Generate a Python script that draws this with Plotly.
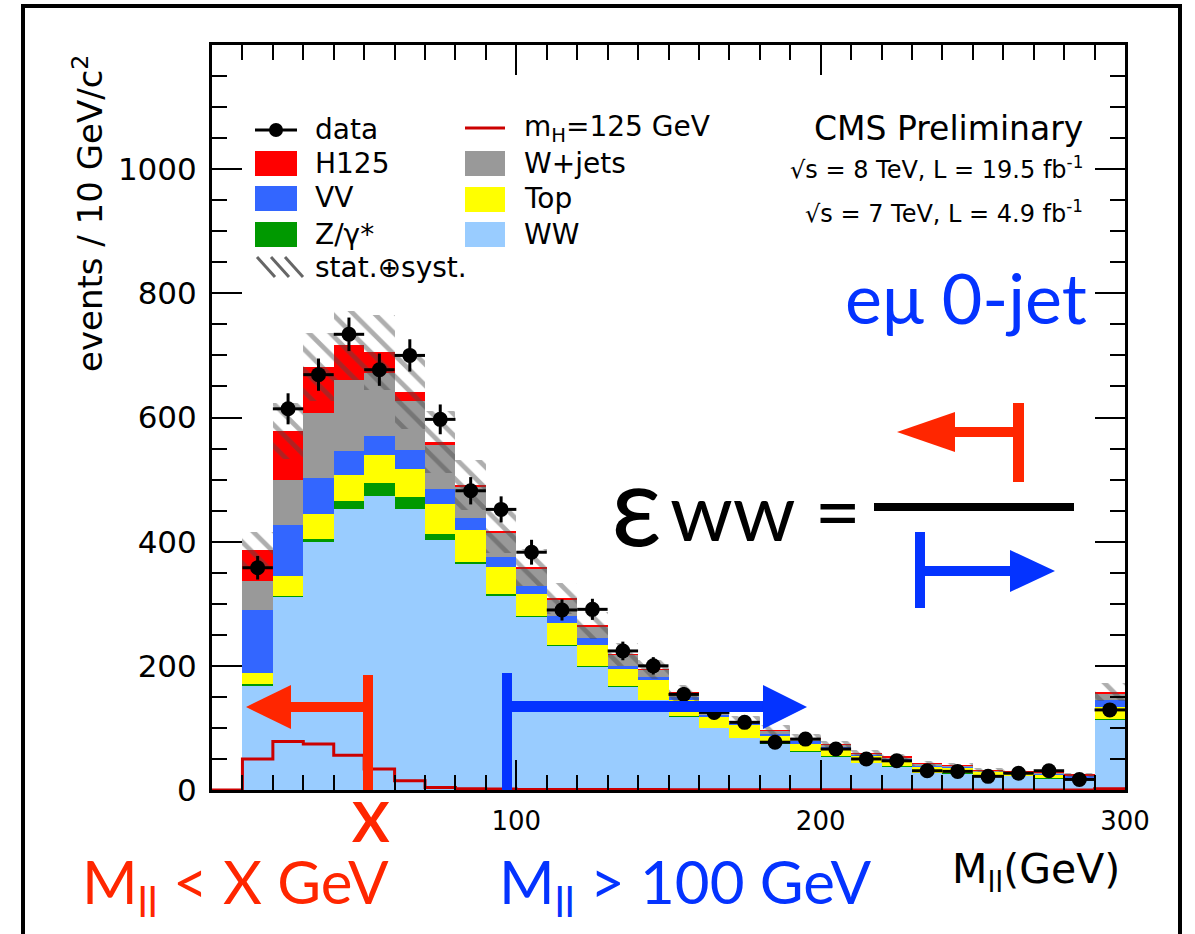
import numpy as np
import plotly.graph_objects as go

# ---------------- data: e-mu 0-jet dilepton mass, 10 GeV bins from 10 to 300 GeV
bin_low = np.arange(10, 300, 10)          # last bin carries the overflow
bin_width = 10

ww    = [169, 311, 399, 453, 473, 453, 402, 365, 313, 279, 232, 199, 167, 145, 119,
         100, 84, 75, 62, 54, 44, 38, 28, 27, 22, 23, 19, 17, 114]
zgam  = [2, 2, 5, 13, 22, 19, 11, 3, 3, 2, 1, 1, 0.5, 0.5, 0.3,
         0.3, 0.2, 0.2, 0.2, 0.2, 0.1, 0.1, 0.1, 0.1, 0.1, 0.1, 0.1, 0.1, 1]
top   = [17, 31, 40, 41, 45, 45, 47, 50, 43, 35, 36, 34, 27, 31, 25,
         18, 22, 11, 12, 13, 11, 10, 10, 9, 7, 4, 6, 3, 18]
vv    = [102, 83, 59, 39, 31, 30, 25, 20, 17, 12, 11, 11, 6, 5, 5,
         4, 2, 4, 4, 3, 2, 3, 2, 2, 1, 1, 1, 3, 12]
wjets = [46, 73, 104, 114, 100, 79, 71, 51, 39, 29, 27, 19, 17, 12, 7,
         3, 2, 6, 4, 3, 2, 2, 2, 2, 2, 2, 2, 1, 11]
h125  = [50, 78, 74, 56, 34, 15, 4, 2, 1.5, 1, 1, 1, 0.8, 0.7, 0.6,
         0.5, 0.4, 0.4, 0.3, 0.3, 0.2, 0.2, 0.2, 0.1, 0.1, 0.1, 0.1, 0.1, 2]
bkg_unc = [30, 45, 55, 55, 60, 60, 50, 40, 35, 30, 25, 22, 18, 16, 13,
           10, 9, 8, 7, 6, 5, 5, 4, 4, 3, 3, 3, 3, 14]

data     = [358, 614, 669, 734, 677, 700, 597, 482, 452, 383, 290, 291, 224, 200, 154,
            125, 109, 77, 82, 66, 50, 47, 31, 30, 22, 27, 31, 17, 129]
data_err = [19, 25, 26, 27, 26, 26, 24, 22, 21, 20, 17, 17, 15, 14, 12,
            11, 10, 9, 9, 8, 7, 7, 6, 5, 5, 5, 6, 4, 11]

x_ticks = [100, 200, 300]
y_ticks = [0, 200, 400, 600, 800, 1000]

# ---------------- styles
C_WW, C_Z, C_TOP, C_VV, C_WJ, C_H = "#99ccff", "#009900", "#ffff00", "#3366ff", "#999999", "#ff0000"
C_SIGLINE = "#cc0000"
K_RED, K_BLUE = "#ff2600", "#0433ff"
ROOT_FONT = "DejaVu Sans"
SLIDE_FONT = "Lato, Noto Sans"

W, H = 1195, 934
L, R, T, B = 212, 70, 45, 144
PW, PH = W - L - R, H - T - B


def px(x, y):
    """page pixel -> paper coordinates"""
    return (x - L) / PW, (H - B - y) / PH


centers = bin_low + bin_width / 2
fig = go.Figure()

# stacked backgrounds + signal
stack = [("WW", ww, C_WW), ("Z/γ*", zgam, C_Z), ("Top", top, C_TOP),
         ("VV", vv, C_VV), ("W+jets", wjets, C_WJ), ("H125", h125, C_H)]
base = np.zeros(len(bin_low))
for name, vals, col in stack:
    vals = np.asarray(vals, dtype=float)
    fig.add_trace(go.Bar(x=centers, y=vals, base=base.copy(), width=bin_width, name=name,
                         marker=dict(color=col, line=dict(width=0)), opacity=1,
                         showlegend=False, hoverinfo="skip"))
    base += vals
total = base

# stat (+) syst band
unc = np.asarray(bkg_unc, dtype=float)
fig.add_trace(go.Bar(x=centers, y=2 * unc, base=total - unc, width=bin_width, name="stat.⊕syst.",
                     marker=dict(color="rgba(0,0,0,0)", line=dict(width=0),
                                 pattern=dict(shape="\\", fgcolor="rgba(75,75,75,0.9)",
                                              bgcolor="rgba(0,0,0,0)", size=15, solidity=0.32)),
                     showlegend=False, hoverinfo="skip"))

# mH = 125 GeV signal shape, drawn as a step line over the full range
edges = np.append(np.insert(bin_low, 0, 0), 300)
sig = np.concatenate([[0.0], h125, [h125[-1]]])
fig.add_trace(go.Scatter(x=edges, y=sig, mode="lines", line=dict(color=C_SIGLINE, width=3, shape="hv"),
                         showlegend=False, hoverinfo="skip"))

# data
fig.add_trace(go.Scatter(x=centers, y=data, mode="markers",
                         marker=dict(color="black", size=15),
                         error_y=dict(type="data", array=data_err, color="black", thickness=3, width=0),
                         error_x=dict(type="constant", value=bin_width / 2, color="black", thickness=3, width=0),
                         showlegend=False))

shapes = []
annos = []


def rect(x0, y0, x1, y1, color, line=None):
    a, b = px(x0, y1)
    c, d = px(x1, y0)
    s = dict(type="rect", xref="paper", yref="paper", x0=a, y0=b, x1=c, y1=d,
             fillcolor=color, line=dict(width=0), layer="above")
    if line:
        s["line"] = line
        s["fillcolor"] = "rgba(0,0,0,0)"
    shapes.append(s)


def poly(points, color):
    pts = [px(x, y) for x, y in points]
    path = "M " + " L ".join(f"{a:.5f},{b:.5f}" for a, b in pts) + " Z"
    shapes.append(dict(type="path", xref="paper", yref="paper", path=path,
                       fillcolor=color, line=dict(width=0), layer="above"))


def seg(x0, y0, x1, y1, color, width):
    a, b = px(x0, y0)
    c, d = px(x1, y1)
    shapes.append(dict(type="line", xref="paper", yref="paper", x0=a, y0=b, x1=c, y1=d,
                       line=dict(color=color, width=width), layer="above"))


def text(x, y, s, size, color="black", family=ROOT_FONT, xanchor="left", angle=0, yanchor="middle"):
    a, b = px(x, y)
    annos.append(dict(xref="paper", yref="paper", x=a, y=b, text=s, showarrow=False,
                      xanchor=xanchor, yanchor=yanchor, textangle=angle,
                      font=dict(family=family, size=size, color=color)))


# ---------------- legend (two columns)
col1_box, col1_txt = 255, 313
col2_box, col2_txt = 465, 522
seg(col1_box, 130, col1_box + 42, 130, "black", 3)
shapes.append(dict(type="circle", xref="paper", yref="paper",
                   x0=px(col1_box + 14, 0)[0], x1=px(col1_box + 28, 0)[0],
                   y0=px(0, 137)[1], y1=px(0, 123)[1], fillcolor="black", line=dict(width=0), layer="above"))
text(col1_txt, 130, "data", 28)
for (yc, label, col) in [(163, "H125", C_H), (198, "VV", C_VV), (234, "Z/γ*", C_Z)]:
    rect(col1_box, yc - 12, col1_box + 42, yc + 13, col)
    text(col1_txt, yc, label, 28)
for k in range(3):
    xs = col1_box + 2 + 14 * k
    seg(xs, 257, xs + 18, 277, "#666666", 3)
text(col1_txt, 267, "stat.⊕syst.", 28)

seg(col2_box, 128, col2_box + 40, 128, C_SIGLINE, 3)
text(col2_txt, 128, "m<sub>H</sub>=125 GeV", 28)
for (yc, label, col) in [(163, "W+jets", C_WJ), (199, "Top", C_TOP), (234, "WW", C_WW)]:
    rect(col2_box, yc - 12, col2_box + 40, yc + 13, col)
    text(col2_txt, yc, label, 28)

# ---------------- experiment labels
text(1085, 128, "CMS Preliminary", 33, xanchor="right")
text(1085, 168, "√s = 8 TeV, L = 19.5 fb<sup>-1</sup>", 24, xanchor="right")
text(1085, 212, "√s = 7 TeV, L = 4.9 fb<sup>-1</sup>", 24, xanchor="right")

# axis titles
text(88, 213, "events / 10 GeV/c<sup>2</sup>", 34, angle=-90, xanchor="center")
text(950, 872, "M<sub>ll</sub>(GeV)", 41)

# ---------------- slide overlays
text(843, 297, "eμ 0-jet", 70, color=K_BLUE, family=SLIDE_FONT)

# cut arrows inside the plot
rect(363, 675, 373, 790, K_RED)
rect(288, 702, 363, 712, K_RED)
poly([(246, 707), (291, 685), (291, 729)], K_RED)
rect(502, 673, 512, 790, K_BLUE)
rect(512, 701, 765, 712, K_BLUE)
poly([(763, 685), (807, 707), (763, 729)], K_BLUE)

text(371, 821, "<b>X</b>", 56, color=K_RED, family=SLIDE_FONT, xanchor="center")
text(80, 886, "M<sub>ll</sub> &lt; X GeV", 60, color=K_RED, family=SLIDE_FONT)
text(497, 886, "M<sub>ll</sub> &gt; 100 GeV", 60, color=K_BLUE, family=SLIDE_FONT)

# efficiency fraction
text(636, 502, "ε", 112, family=SLIDE_FONT, xanchor="center")
text(668, 510, "ww =", 80, family=SLIDE_FONT)
rect(874, 503, 1074, 511, "black")
rect(1013, 403, 1024, 482, K_RED)
rect(952, 427, 1013, 437, K_RED)
poly([(897, 432), (955, 412), (955, 452)], K_RED)
rect(915, 532, 925, 608, K_BLUE)
rect(925, 566, 1012, 576, K_BLUE)
poly([(1010, 550), (1055, 571), (1010, 592)], K_BLUE)

# slide frame
rect(23, 6, 1180, 960, None, line=dict(color="black", width=4))

axis_common = dict(showline=True, linewidth=3, linecolor="black", mirror="ticks",
                   ticks="inside", tickwidth=2, tickcolor="black", ticklen=30,
                   showgrid=False, zeroline=False)

fig.update_layout(
    width=W, height=H, margin=dict(l=L, r=R, t=T, b=B, autoexpand=False),
    paper_bgcolor="white", plot_bgcolor="white",
    barmode="overlay", bargap=0, showlegend=False,
    xaxis=dict(range=[0, 300], tickvals=x_ticks, ticktext=[str(v) for v in x_ticks],
               tickfont=dict(family=ROOT_FONT, size=26, color="black"), ticklabelstandoff=6,
               minor=dict(ticks="inside", dtick=10, ticklen=15, tickwidth=2, tickcolor="black"),
               **axis_common),
    yaxis=dict(range=[0, 1200], tickvals=y_ticks, ticktext=[str(v) for v in y_ticks],
               tickfont=dict(family=ROOT_FONT, size=31, color="black"), ticklabelstandoff=6,
               minor=dict(ticks="inside", dtick=50, ticklen=15, tickwidth=2, tickcolor="black"),
               **axis_common),
    shapes=shapes, annotations=annos,
)

fig.write_html("out.html")
